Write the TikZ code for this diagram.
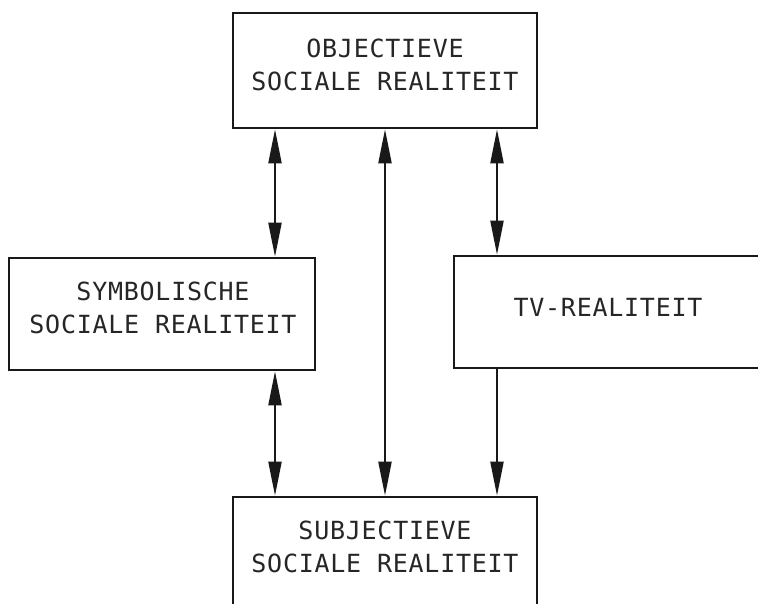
\documentclass[tikz,border=0pt]{standalone}
\usepackage{fontspec}
\setmonofont[LetterSpace=3]{DejaVu Sans Mono}
\usetikzlibrary{arrows.meta}
\tikzset{
  x=1pt, y=-1pt,
  ink/.style={draw=black!90, line width=2.6pt},
  box/.style={ink, rectangle, inner sep=0pt},
  lbl/.style={align=center, inner sep=0pt, text=black!85,
    font=\ttfamily\fontsize{25}{33}\selectfont},
  tip/.style={line width=2pt, draw=black!90},
  dbl/.style={tip, {Triangle[width=13pt,length=34pt]}-{Triangle[width=13pt,length=34pt]}},
  sgl/.style={tip, -{Triangle[width=13pt,length=34pt]}},
}
\begin{document}
\begin{tikzpicture}
\useasboundingbox (0,0) rectangle (758,604);
\clip (0,0) rectangle (758,604);
\fill[white] (0,0) rectangle (758,604);
% boxes
\node[box, minimum width=304pt, minimum height=115pt] (obj) at (385,70.5) {};
\node[lbl] (objt) at (385,65) {OBJECTIEVE\\SOCIALE REALITEIT};
\node[box, minimum width=306pt, minimum height=112pt] (sym) at (162,314) {};
\node[lbl] (symt) at (163,308) {SYMBOLISCHE\\SOCIALE REALITEIT};
\node[box, minimum width=308pt, minimum height=112pt] (tv) at (608,312) {};
\node[lbl] (tvt) at (608,307) {TV-REALITEIT};
\node[box, minimum width=304pt, minimum height=120pt] (sub) at (385,557) {};
\node[lbl] (subt) at (385,547) {SUBJECTIEVE\\SOCIALE REALITEIT};
% arrow columns
\coordinate (xa) at (275,0);
\coordinate (xb) at (385,0);
\coordinate (xc) at (497,0);
\draw[dbl] (obj.south -| xa) -- (sym.north -| xa);
\draw[dbl] (obj.south -| xb) -- (sub.north -| xb);
\draw[dbl] (obj.south -| xc) -- (tv.north -| xc);
\draw[dbl] (sym.south -| xa) -- (sub.north -| xa);
\draw[sgl] (tv.south -| xc) -- (sub.north -| xc);
\end{tikzpicture}
\end{document}
